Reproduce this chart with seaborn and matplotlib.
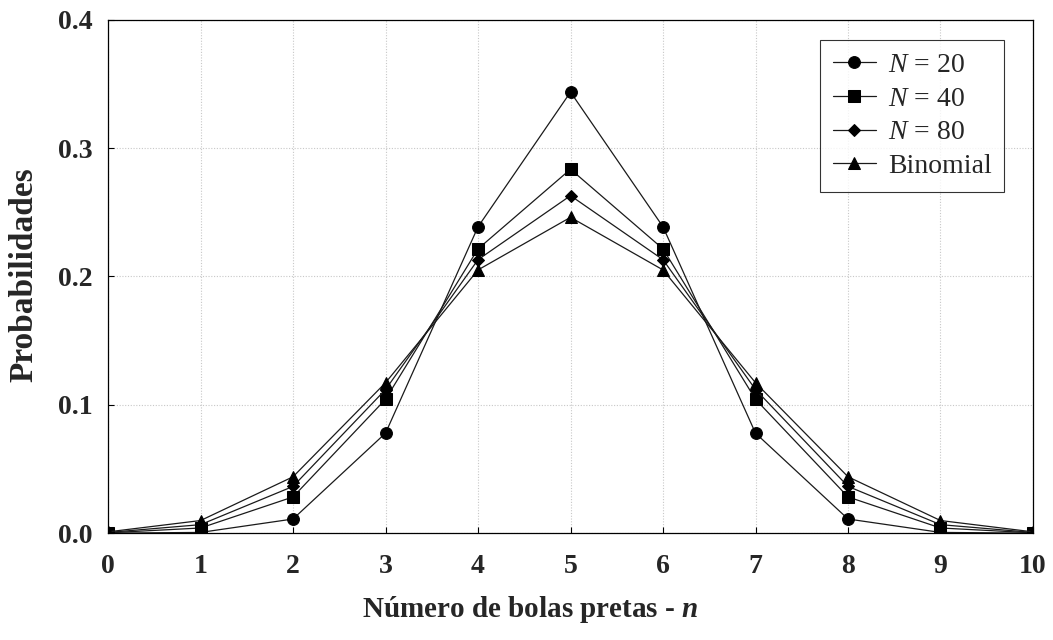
import matplotlib
matplotlib.use("Agg")
import matplotlib.pyplot as plt
import seaborn as sns
import pandas as pd

# Probabilities of drawing n black balls (10 draws) for urns of different size
n_values = list(range(11))
p_n20 = [0.000005, 0.00054, 0.0110, 0.0779, 0.2387, 0.3437, 0.2387, 0.0779, 0.0110, 0.00054, 0.000005]
p_n40 = [0.00022, 0.0040, 0.0282, 0.1043, 0.2215, 0.2836, 0.2215, 0.1043, 0.0282, 0.0040, 0.00022]
p_n80 = [0.00051, 0.0066, 0.0364, 0.1119, 0.2131, 0.2630, 0.2131, 0.1119, 0.0364, 0.0066, 0.00051]
p_binom = [0.00098, 0.0098, 0.0439, 0.1172, 0.2051, 0.2461, 0.2051, 0.1172, 0.0439, 0.0098, 0.00098]
series_labels = [r"$N$ = 20", r"$N$ = 40", r"$N$ = 80", "Binomial"]
x_ticks = list(range(11))
y_ticks = [0.0, 0.1, 0.2, 0.3, 0.4]

frames = []
for label, vals in zip(series_labels, [p_n20, p_n40, p_n80, p_binom]):
    frames.append(pd.DataFrame({"n": n_values, "p": vals, "serie": label}))
df = pd.concat(frames, ignore_index=True)

sns.set_theme(style="white")
plt.rcParams["font.family"] = ["Liberation Serif", "DejaVu Serif"]
plt.rcParams["mathtext.fontset"] = "custom"
plt.rcParams["mathtext.rm"] = "Liberation Serif"
plt.rcParams["mathtext.it"] = "Liberation Serif:italic"
plt.rcParams["mathtext.bf"] = "Liberation Serif:bold"
plt.rcParams["mathtext.bfit"] = "Liberation Serif:bold:italic"

fig = plt.figure(figsize=(10.53, 6.4), dpi=100)
ax = fig.add_axes([0.1026, 0.167, 0.8784, 0.802])

markers = {series_labels[0]: "o", series_labels[1]: "s",
           series_labels[2]: "D", series_labels[3]: "^"}
sizes = {series_labels[0]: 8.5, series_labels[1]: 8.5,
         series_labels[2]: 6.5, series_labels[3]: 8.5}

for label in series_labels:
    sub = df[df["serie"] == label]
    sns.lineplot(data=sub, x="n", y="p", ax=ax, color="#1a1a1a", linewidth=0.9,
                 marker=markers[label], markersize=sizes[label],
                 markeredgecolor="black", markerfacecolor="black",
                 label=label, estimator=None)

ax.set_xlim(0, 10)
ax.set_ylim(0, 0.4)
ax.set_xticks(x_ticks)
ax.set_yticks(y_ticks)
ax.set_xticklabels([str(t) for t in x_ticks], fontsize=20, fontweight="bold")
ax.set_yticklabels([f"{t:.1f}" for t in y_ticks], fontsize=20, fontweight="bold")
ax.tick_params(direction="in", length=4, width=0.8, color="black",
               top=False, right=False, bottom=True, left=True)
ax.tick_params(axis="x", pad=15)
ax.tick_params(axis="y", pad=11)

ax.grid(True, color="#c8c8c8", linestyle=(0, (1, 1.5)), linewidth=0.8)
for side in ["left", "bottom", "top", "right"]:
    ax.spines[side].set_color("black")
    ax.spines[side].set_linewidth(0.9)

ax.set_xlabel(r"Número de bolas pretas - $\mathbfit{n}$", fontsize=21, fontweight="bold")
ax.xaxis.set_label_coords(0.456, -0.118)
ax.set_ylabel("Probabilidades", fontsize=24, fontweight="bold")
ax.yaxis.set_label_coords(-0.074, 0.503)

leg = ax.legend(loc="upper right", bbox_to_anchor=(0.969, 0.961), borderaxespad=0,
                fontsize=20, frameon=True, fancybox=False, edgecolor="black",
                handlelength=1.55, handletextpad=0.45, borderpad=0.45,
                labelspacing=0.3)
leg.get_frame().set_linewidth(0.8)

fig.savefig("out.png", dpi=100)
